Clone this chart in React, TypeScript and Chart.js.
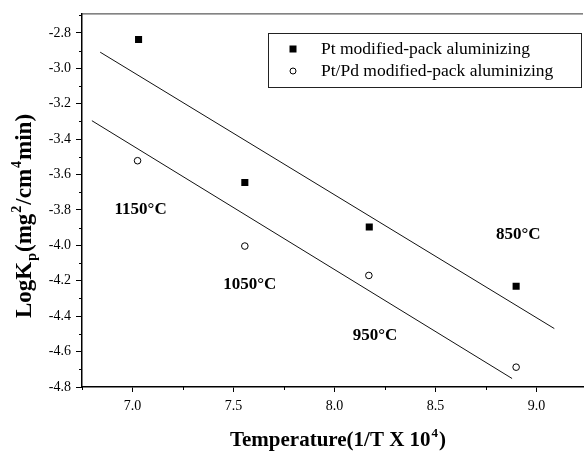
import React, { useEffect, useRef } from "react";
import { Chart, registerables } from "chart.js";

Chart.register(...registerables);

// ---- data ----
const seriesNames = ["Pt modified-pack aluminizing", "Pt/Pd modified-pack aluminizing"];
const ptX = [7.03, 7.556, 8.172, 8.899];
const ptY = [-2.837, -3.645, -3.896, -4.231];
const pdX = [7.025, 7.556, 8.17, 8.899];
const pdY = [-3.522, -4.004, -4.17, -4.688];
const ptFitX = [6.84, 9.088];
const ptFitY = [-2.909, -4.47];
const pdFitX = [6.799, 8.879];
const pdFitY = [-3.296, -4.752];
const tempLabels = ["1150°C", "1050°C", "950°C", "850°C"];
const tempLabelX = [7.04, 7.58, 8.2, 8.91];
const tempLabelY = [-3.8, -4.22, -4.51, -3.94];
const xTicks = [7.0, 7.5, 8.0, 8.5, 9.0];
const xMinorTicks = [6.75, 7.25, 7.75, 8.25, 8.75];
const yTicks = [-2.8, -3.0, -3.2, -3.4, -3.6, -3.8, -4.0, -4.2, -4.4, -4.6, -4.8];
const yMinorTicks = [-2.7, -2.9, -3.1, -3.3, -3.5, -3.7, -3.9, -4.1, -4.3, -4.5, -4.7];

const SERIF = "'Liberation Serif', 'Times New Roman', serif";

type Seg = { t: string; m: "n" | "sub" | "sup" };

const yTitle: Seg[] = [
  { t: "LogK", m: "n" },
  { t: "p", m: "sub" },
  { t: "(mg", m: "n" },
  { t: "2", m: "sup" },
  { t: "/cm", m: "n" },
  { t: "4", m: "sup" },
  { t: "min)", m: "n" },
];
const xTitle: Seg[] = [
  { t: "Temperature(1/T X 10", m: "n" },
  { t: "4", m: "sup" },
  { t: ")", m: "n" },
];

function drawRich(ctx: CanvasRenderingContext2D, segs: Seg[], cx: number, cy: number, size: number) {
  const small = Math.round(size * 0.6);
  const fontFor = (m: string) => `bold ${m === "n" ? size : small}px ${SERIF}`;
  let total = 0;
  for (const s of segs) {
    ctx.font = fontFor(s.m);
    total += ctx.measureText(s.t).width + (s.m === "n" ? 0 : 2);
  }
  let x = cx - total / 2;
  ctx.textBaseline = "alphabetic";
  ctx.textAlign = "left";
  const base = cy + size * 0.35;
  for (const s of segs) {
    ctx.font = fontFor(s.m);
    const dy = s.m === "sub" ? size * 0.22 : s.m === "sup" ? -size * 0.45 : 0;
    const pad = s.m === "n" ? 0 : 1;
    ctx.fillText(s.t, x + pad, base + dy);
    x += ctx.measureText(s.t).width + pad * 2;
  }
}

const decorPlugin = {
  id: "decor",
  afterDraw(chart: any) {
    const ctx: CanvasRenderingContext2D = chart.ctx;
    const xs = chart.scales.x;
    const ys = chart.scales.y;
    const area = chart.chartArea;
    ctx.save();
    ctx.fillStyle = "#000";
    // top frame line
    ctx.lineWidth = 1;
    ctx.strokeStyle = "#333";
    ctx.beginPath();
    ctx.moveTo(area.left, area.top + 0.5);
    ctx.lineTo(area.right, area.top + 0.5);
    ctx.stroke();
    ctx.strokeStyle = "#000";
    // minor ticks
    ctx.lineWidth = 1;
    ctx.beginPath();
    for (const v of xMinorTicks) {
      const px = Math.round(xs.getPixelForValue(v)) + 0.5;
      ctx.moveTo(px, area.bottom);
      ctx.lineTo(px, area.bottom + 3);
    }
    for (const v of yMinorTicks) {
      const py = Math.round(ys.getPixelForValue(v)) + 0.5;
      ctx.moveTo(area.left, py);
      ctx.lineTo(area.left - 3, py);
    }
    ctx.stroke();
    // temperature labels
    ctx.font = `bold 17px ${SERIF}`;
    ctx.textAlign = "center";
    ctx.textBaseline = "middle";
    tempLabels.forEach((t, i) => {
      ctx.fillText(t, xs.getPixelForValue(tempLabelX[i]), ys.getPixelForValue(tempLabelY[i]));
    });
    // legend
    const bx = 268, by = 33, bw = 313, bh = 54;
    ctx.fillStyle = "#fff";
    ctx.fillRect(bx, by, bw, bh);
    ctx.strokeStyle = "#222";
    ctx.lineWidth = 1;
    ctx.strokeRect(bx + 0.5, by + 0.5, bw, bh);
    ctx.fillStyle = "#000";
    ctx.fillRect(293 - 3.5, 49 - 3.5, 7, 7);
    ctx.beginPath();
    ctx.arc(293, 71, 3, 0, Math.PI * 2);
    ctx.lineWidth = 1;
    ctx.strokeStyle = "#000";
    ctx.stroke();
    ctx.font = `17.5px ${SERIF}`;
    ctx.textAlign = "left";
    ctx.textBaseline = "middle";
    ctx.fillText(seriesNames[0], 321, 49);
    ctx.fillText(seriesNames[1], 321, 71);
    // axis titles
    drawRich(ctx, xTitle, 338, 439, 21);
    ctx.save();
    ctx.translate(23, 216);
    ctx.rotate(-Math.PI / 2);
    drawRich(ctx, yTitle, 0, 0, 23);
    ctx.restore();
    ctx.restore();
  },
};

export default function App() {
  const ref = useRef<HTMLCanvasElement | null>(null);
  useEffect(() => {
    if (!ref.current) return;
    const chart = new Chart(ref.current, {
      type: "scatter",
      data: {
        datasets: [
          {
            label: seriesNames[0],
            data: ptX.map((x, i) => ({ x, y: ptY[i] })),
            pointStyle: "rect",
            pointRadius: 5,
            backgroundColor: "#000",
            borderColor: "#000",
            borderWidth: 0,
          },
          {
            label: seriesNames[1],
            data: pdX.map((x, i) => ({ x, y: pdY[i] })),
            pointStyle: "circle",
            pointRadius: 3.3,
            backgroundColor: "#fff",
            borderColor: "#000",
            borderWidth: 1,
          },
          {
            label: "Pt fit",
            data: ptFitX.map((x, i) => ({ x, y: ptFitY[i] })),
            showLine: true,
            pointRadius: 0,
            borderColor: "#111",
            borderWidth: 1,
          },
          {
            label: "Pt/Pd fit",
            data: pdFitX.map((x, i) => ({ x, y: pdFitY[i] })),
            showLine: true,
            pointRadius: 0,
            borderColor: "#111",
            borderWidth: 1,
          },
        ],
      },
      options: {
        responsive: false,
        devicePixelRatio: 1,
        animation: false,
        layout: { padding: { top: 6, right: 0, left: 0, bottom: 0 } },
        plugins: { legend: { display: false }, tooltip: { enabled: false } },
        scales: {
          x: {
            type: "linear",
            min: 6.75,
            max: 9.23,
            afterBuildTicks: (s: any) => {
              s.ticks = xTicks.map((v) => ({ value: v }));
            },
            afterFit: (s: any) => {
              s.height = 67;
            },
            ticks: {
              color: "#000",
              font: { family: SERIF, size: 14 },
              padding: 6,
              maxRotation: 0,
              callback: (v: any) => Number(v).toFixed(1),
            },
            grid: { drawOnChartArea: false, drawTicks: true, tickLength: 5, color: "#000" },
            border: { display: true, color: "#000", width: 1.5 },
          },
          y: {
            type: "linear",
            min: -4.8,
            max: -2.69,
            afterBuildTicks: (s: any) => {
              s.ticks = yTicks.map((v) => ({ value: v }));
            },
            afterFit: (s: any) => {
              s.width = 82;
            },
            ticks: {
              color: "#000",
              font: { family: SERIF, size: 14 },
              padding: 5,
              callback: (v: any) => Number(v).toFixed(1),
            },
            grid: { drawOnChartArea: false, drawTicks: true, tickLength: 6, color: "#000" },
            border: { display: true, color: "#000", width: 1.5 },
          },
        },
      },
      plugins: [decorPlugin],
    });
    return () => chart.destroy();
  }, []);
  return (
    <div style={{ position: "absolute", left: 0, top: 0, width: 588, height: 454, background: "#fff" }}>
      <canvas ref={ref} width={588} height={454} style={{ display: "block" }} />
    </div>
  );
}
